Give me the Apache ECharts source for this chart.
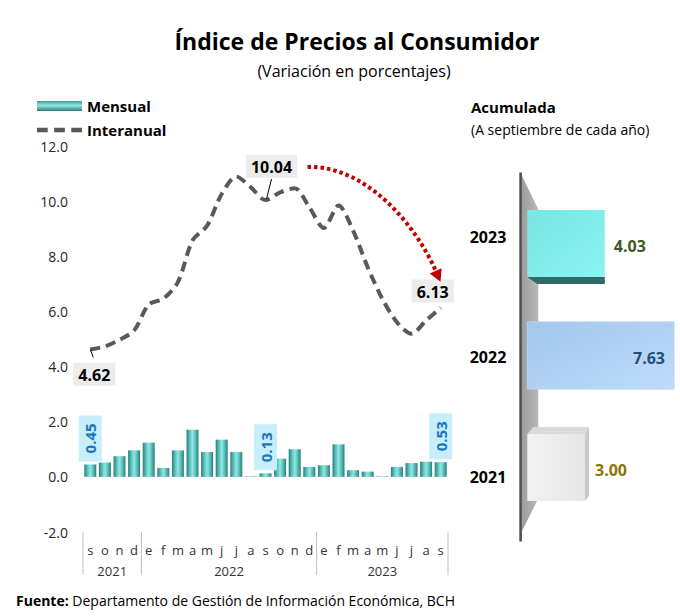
<!DOCTYPE html>
<html><head><meta charset="utf-8">
<script src="https://cdn.jsdelivr.net/npm/echarts@6/dist/echarts.min.js"></script>
<style>html,body{margin:0;padding:0;background:#fff}#c{width:680px;height:616px}</style>
</head><body><div id="c"></div>
<script>
// ---------- data ----------
const monthLabels = ['s','o','n','d','e','f','m','a','m','j','j','a','s','o','n','d','e','f','m','a','m','j','j','a','s'];
const yearLabels = ['2021','2022','2023'];
const yearFirstMonth = [0, 4, 16];
const yearLastMonth = [3, 15, 24];
const mensual = [0.45, 0.52, 0.75, 0.96, 1.24, 0.32, 0.96, 1.71, 0.90, 1.35, 0.90, 0.02, 0.13,
                 0.66, 1.00, 0.36, 0.42, 1.18, 0.24, 0.19, 0.02, 0.36, 0.50, 0.55, 0.53];
const interanual = [4.62, 4.73, 4.97, 5.31, 6.25, 6.46, 7.06, 8.57, 9.11, 10.26, 10.89, 10.50, 10.04,
                    10.32, 10.47, 9.78, 9.03, 9.84, 8.93, 7.60, 6.46, 5.61, 5.19, 5.67, 6.13];
const mensualLabelIdx = [0, 12, 24];
const interanualLabelIdx = [0, 12, 24];
const acumYears = ['2021', '2022', '2023'];
const acumulada = [3.00, 7.63, 4.03];

// ---------- styling ----------
const FONT = '"Open Sans", "Noto Sans", sans-serif';
const G = echarts.graphic.LinearGradient;
const barGrad = new G(0,0,1,0,[{offset:0,color:'#2a7c78'},{offset:0.28,color:'#5cc4bf'},{offset:0.5,color:'#92e6e1'},{offset:0.72,color:'#5cc4bf'},{offset:1,color:'#2a7c78'}]);
const legendBarGrad = new G(0,0,0,1,[{offset:0,color:'#3a9c98'},{offset:0.45,color:'#92e6e1'},{offset:1,color:'#2a7c78'}]);
const lineColor = '#595959';

const lineLabelPlace = {
  0:  {position:'bottom', distance:13, offset:[4,0]},
  12: {position:'top', distance:22, offset:[6,0]},
  24: {position:'top', distance:5, offset:[-8,0]}
};
const acumStyle = [
  {front:new G(0,0,1,0,[{offset:0,color:'#f2f2f2'},{offset:1,color:'#e6e6e6'}]), extra:'topRight', labelColor:'#8c7400', labelPos:'right', gap:6},
  {front:new G(0,0,1,1,[{offset:0,color:'#a3c6ee'},{offset:1,color:'#bfdcf9'}]), stroke:'#b7d3f0', labelColor:'#1f4e79', labelPos:'inside', gap:9},
  {front:new G(0,0,1,1,[{offset:0,color:'#78e6e4'},{offset:1,color:'#8af3f2'}]), extra:'bottom', labelColor:'#3b5a1f', labelPos:'right', gap:9}
];

const chart = echarts.init(document.getElementById('c'), null, {renderer:'svg'});

const barData = mensual.map((v,i)=> mensualLabelIdx.includes(i) ? {value:v, label:{show:true}} : v);
const lineData = interanual.map((v,i)=> interanualLabelIdx.includes(i) ? {value:v, label:Object.assign({show:true}, lineLabelPlace[i])} : v);

function renderYears(params, api){
  const i = params.dataIndex;
  const bw = api.size([1,0])[0];
  const xs = api.coord([api.value(0), 0])[0] - bw/2;
  const xe = api.coord([api.value(1), 0])[0] + bw/2;
  const cs = params.coordSys;
  const yb = cs.y + cs.height;
  const ch = [
    {type:'line', shape:{x1:xs,y1:yb,x2:xs,y2:yb+43}, style:{stroke:'#bfbfbf', lineWidth:1}},
    {type:'text', style:{text:yearLabels[i], x:(xs+xe)/2, y:yb+39, align:'center', verticalAlign:'middle', fill:'#333', font:'13px '+FONT}}
  ];
  if (i === yearLabels.length-1) ch.push({type:'line', shape:{x1:xe,y1:yb,x2:xe,y2:yb+43}, style:{stroke:'#bfbfbf', lineWidth:1}});
  return {type:'group', children:ch};
}

function renderArrow(params, api){
  const p = api.coord([api.value(0), api.value(1)]);
  const q = api.coord([api.value(2), api.value(3)]);
  const P0=[p[0]+42,p[1]-33], P3=[q[0]-5,q[1]-37];
  const P1=[P0[0]+57,P0[1]-2], P2=[P3[0]-21,P3[1]-48];
  let dx=P3[0]-P2[0], dy=P3[1]-P2[1]; const L=Math.hypot(dx,dy); dx/=L; dy/=L;
  const tip=[P3[0]+dx*12, P3[1]+dy*12];
  const b1=[P3[0]-dy*6.5, P3[1]+dx*6.5], b2=[P3[0]+dy*6.5, P3[1]-dx*6.5];
  const s = api.coord([api.value(4), api.value(5)]);
  return {type:'group', children:[
    {type:'bezierCurve', shape:{x1:P0[0],y1:P0[1],cpx1:P1[0],cpy1:P1[1],cpx2:P2[0],cpy2:P2[1],x2:P3[0],y2:P3[1]},
     style:{stroke:'#c00000', lineWidth:4, lineDash:[3.5,3], fill:null}},
    {type:'polygon', shape:{points:[tip,b1,b2]}, style:{fill:'#c00000'}},
    {type:'line', shape:{x1:p[0]+1,y1:p[1]-1,x2:p[0]+6,y2:p[1]-21}, style:{stroke:'#000', lineWidth:1}},
    {type:'line', shape:{x1:s[0],y1:s[1],x2:s[0]+3,y2:s[1]+8}, style:{stroke:'#000', lineWidth:1}}
  ]};
}

function renderWall(params, api){
  const cs = params.coordSys;
  const x = cs.x, y = cs.y, h = cs.height;
  return {type:'group', children:[
    {type:'polygon', shape:{points:[[x-5.5,y-12],[x+11,y+22],[x+11,y+h-25],[x-5.5,y+h+8]]},
     style:{fill:new G(0,0,1,0,[{offset:0,color:'#9e9e9e'},{offset:1,color:'#b8b8b8'}])}},
    {type:'rect', shape:{x:x-8,y:y-15,width:2.6,height:h+33}, style:{fill:'#505050'}}
  ]};
}

function renderAcum(params, api){
  const i = params.dataIndex;
  const v = api.value(0), c = api.value(1);
  const a = api.coord([0,c]), b = api.coord([v,c]);
  const h = api.size([0,1])[1]*0.6;
  const x0=a[0], x1=b[0], y0=a[1]-h/2, y1=a[1]+h/2;
  const st = acumStyle[i];
  const ch = [];
  if (st.extra==='bottom') {
    ch.push({type:'polygon', shape:{points:[[x0,y1],[x1,y1],[x1,y1+7],[x0+10,y1+7]]}, style:{fill:'#2f6b69'}});
  }
  if (st.extra==='topRight') {
    ch.push({type:'polygon', shape:{points:[[x0,y0],[x0+6,y0-7],[x1+4,y0-7],[x1,y0]]}, style:{fill:'#dadada'}});
    ch.push({type:'polygon', shape:{points:[[x1,y0],[x1+4,y0-7],[x1+4,y1-5],[x1,y1]]}, style:{fill:'#c9c9c9'}});
  }
  ch.push({type:'rect', shape:{x:x0,y:y0,width:x1-x0,height:h}, style:{fill:st.front, stroke:st.stroke||null, lineWidth:1}});
  const inside = st.labelPos==='inside';
  const lx = inside ? x1-st.gap : x1 + st.gap + (st.extra==='topRight'?4:0);
  ch.push({type:'text', style:{text:v.toFixed(2), x:lx, y:a[1]+2, align: inside?'right':'left', verticalAlign:'middle',
    fill:st.labelColor, font:'bold 16px '+FONT}});
  return {type:'group', children:ch};
}

const option = {
  animation:false,
  backgroundColor:'#fff',
  textStyle:{fontFamily:FONT},
  grid:[
    {left:83, top:146, width:365, height:386, containLabel:false, outerBoundsMode:'none'},
    {left:527.3, top:187.5, width:150, height:336, containLabel:false, outerBoundsMode:'none'}
  ],
  legend:{
    orient:'vertical', left:37, top:98, padding:0, itemWidth:45, itemHeight:10, itemGap:8,
    textStyle:{fontFamily:FONT, fontWeight:'bold', fontSize:15, color:'#000', lineHeight:16},
    data:[
      {name:'Mensual', icon:'rect', itemStyle:{color:legendBarGrad}},
      {name:'Interanual', icon:'path://M0,0h10v4h-10z M16,0h10v4h-10z M32,0h10v4h-10z', itemStyle:{color:lineColor, opacity:1}}
    ]
  },
  xAxis:[
    {type:'category', gridIndex:0, data:monthLabels, boundaryGap:true,
     axisLine:{show:false}, axisTick:{show:false}, splitLine:{show:false},
     axisLabel:{interval:0, margin:11, fontSize:13, color:'#333', fontFamily:FONT}},
    {type:'value', gridIndex:1, min:0, max:7.8, show:false}
  ],
  yAxis:[
    {type:'value', gridIndex:0, min:-2, max:12, interval:2,
     axisLine:{show:false}, axisTick:{show:false}, splitLine:{show:false},
     axisLabel:{margin:15, fontSize:14, color:'#262626', fontFamily:FONT, formatter:v=>v.toFixed(1)}},
    {type:'category', gridIndex:1, data:acumYears,
     axisLine:{show:false}, axisTick:{show:false}, splitLine:{show:false},
     axisLabel:{margin:21, formatter:v=>'{y'+v+'|'+v+'}',
       rich:{
         y2023:{fontWeight:'bold', fontSize:16, color:'#000', fontFamily:FONT, padding:[0,0,13,0]},
         y2022:{fontWeight:'bold', fontSize:16, color:'#000', fontFamily:FONT, padding:[3,0,0,0]},
         y2021:{fontWeight:'bold', fontSize:16, color:'#000', fontFamily:FONT, padding:[19,0,0,0]}
       }}}
  ],
  series:[
    {name:'Mensual', type:'bar', xAxisIndex:0, yAxisIndex:0, data:barData, barWidth:12,
     itemStyle:{color:barGrad},
     label:{show:false, position:'top', distance:3, rotate:90, align:'left', verticalAlign:'middle',
       formatter:p=>p.value.toFixed(2), fontFamily:FONT, fontWeight:'bold', fontSize:15, color:'#1b75bc',
       backgroundColor:'#c7eefb', padding:[4,8,4,8]}},
    {name:'Interanual', type:'line', xAxisIndex:0, yAxisIndex:0, data:lineData, smooth:0.3,
     symbol:'circle', symbolSize:0.5, showSymbol:true,
     lineStyle:{color:lineColor, width:4, type:[10,6]}, itemStyle:{color:'rgba(0,0,0,0)'},
     label:{show:false, formatter:p=>p.value.toFixed(2), fontFamily:FONT, fontWeight:'bold', fontSize:16, color:'#000',
       backgroundColor:'#ececec', padding:[4,5,3,5]}},
    {name:'years', type:'custom', xAxisIndex:0, yAxisIndex:0, silent:true, clip:false,
     data:yearLabels.map((y,i)=>[yearFirstMonth[i], yearLastMonth[i]]), encode:{x:[0,1]}, renderItem:renderYears},
    {name:'arrow', type:'custom', xAxisIndex:0, yAxisIndex:0, silent:true, clip:false, z:5,
     data:[[12, interanual[12], 24, interanual[24], 0, interanual[0]]], encode:{x:[0,2,4], y:[1,3,5]}, renderItem:renderArrow},
    {name:'wall', type:'custom', xAxisIndex:1, yAxisIndex:1, silent:true, clip:false,
     data:[[0,0]], encode:{x:0, y:1}, renderItem:renderWall},
    {name:'Acumulada', type:'custom', xAxisIndex:1, yAxisIndex:1, silent:true, clip:false,
     data:acumulada.map((v,i)=>[v,i]), encode:{x:0, y:1}, renderItem:renderAcum}
  ],
  graphic:[
    {type:'text', x:357, y:41, style:{text:'Índice de Precios al Consumidor', align:'center', verticalAlign:'middle', font:'bold 23px '+FONT, fill:'#000'}},
    {type:'text', x:354, y:71, style:{text:'(Variación en porcentajes)', align:'center', verticalAlign:'middle', font:'16px '+FONT, fill:'#000'}},
    {type:'text', x:471, y:107, style:{text:'Acumulada', align:'left', verticalAlign:'middle', font:'bold 15px '+FONT, fill:'#000'}},
    {type:'text', x:471, y:129, style:{text:'(A septiembre de cada año)', align:'left', verticalAlign:'middle', font:'14px '+FONT, fill:'#000'}},
    {type:'text', x:16, y:600, style:{text:'{b|Fuente:} Departamento de Gestión de Información Económica, BCH', align:'left', verticalAlign:'middle',
      font:'14px '+FONT, fill:'#000', rich:{b:{fontWeight:'bold', fontSize:14, fontFamily:FONT}}}}
  ]
};
chart.setOption(option);
</script>
</body></html>
